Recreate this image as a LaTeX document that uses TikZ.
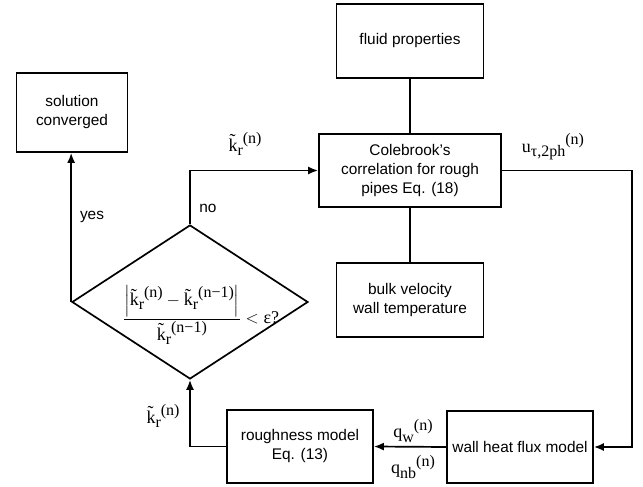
\documentclass[tikz,border=0pt]{standalone}
\usepackage{amsmath}
\usepackage{fontspec}
\setmainfont{Liberation Sans}
\newfontfamily\lbl{Liberation Serif}
\usetikzlibrary{shapes.geometric,arrows.meta,positioning}
\newcommand{\lowr}[1]{\raisebox{-4.5pt}{\fontsize{16}{16}\selectfont #1}}
\newcommand{\highr}[1]{\raisebox{7.5pt}{\fontsize{16}{16}\selectfont #1}}
\newcommand{\KR}[1]{\~k\lowr{r}\highr{(#1)}}

\begin{document}
\begin{tikzpicture}[
    x=1pt, y=-1pt,
    every node/.style={inner sep=0pt},
    block/.style={draw, line width=1.7pt, fill=white, align=center, font=\fontsize{15.4}{19}\selectfont},
    decision/.style={draw, diamond, line width=1.7pt, minimum width=236pt, minimum height=154pt},
    flow/.style={line width=1.7pt},
    arrow/.style={flow, -{Latex[length=10pt,width=8pt]}},
    qty/.style={font=\lbl\fontsize{18}{20}\selectfont},
    answer/.style={font=\fontsize{15.4}{19}\selectfont}
]
\useasboundingbox (0,0) rectangle (643,487);

% Boxes
\node[block, minimum width=111pt, minimum height=79pt] (conv) at (72,112.5) {solution\\converged};
\node[block, minimum width=147pt, minimum height=74pt] (fluid) at (410,41) {fluid properties};
\node[block, minimum width=182pt, minimum height=73pt] (cole) at (410,170.5) {Colebrook's\\correlation for rough\\pipes Eq. (18)};
\node[block, minimum width=147pt, minimum height=74pt] (bulk) at (410,300) {bulk velocity\\wall temperature};
\node[block, minimum width=146pt, minimum height=73pt] (rough) at (300,446.5) {roughness model\\Eq. (13)};
\node[block, minimum width=146pt, minimum height=72pt] (wall) at (520,447) {wall heat flux model};

% Convergence check
\node[decision] (check) at (190,302) {};
\node[qty] (crit) at (201,315) {$\dfrac{\left|\mbox{\KR{n}}-\mbox{\KR{n−1}}\right|}{\mbox{\KR{n−1}}}<\mbox{ε?}$};

% Connectors
\draw[flow] (fluid.south) -- (fluid.south |- cole.north);
\draw[flow] (cole.south) -- (cole.south |- bulk.north);
\draw[arrow] (check.north) |- (cole.west);
\draw[arrow] (check.west) -- (check.west |- conv.south);
\draw[arrow] (cole.east) -| ([xshift=38pt]wall.east) -- (wall.east);
\draw[arrow] (wall.west) -- (rough.east);
\draw[arrow] (rough.west) -| (check.south);

% Labels
\node[answer] (yes) at (92,217) {yes};
\node[answer] (no) at (208,208) {no};
\node[qty] (kup) at (245,144) {\KR{n}};
\node[qty] (utau) at (553,147) {u\lowr{τ,2ph}\highr{(n)}};
\node[qty] (qw) at (413,431) {q\lowr{w}\highr{(n)}};
\node[qty] (qnb) at (413,467) {q\lowr{nb}\highr{(n)}};
\node[qty] (kdown) at (163,416) {\KR{n}};

\end{tikzpicture}
\end{document}
